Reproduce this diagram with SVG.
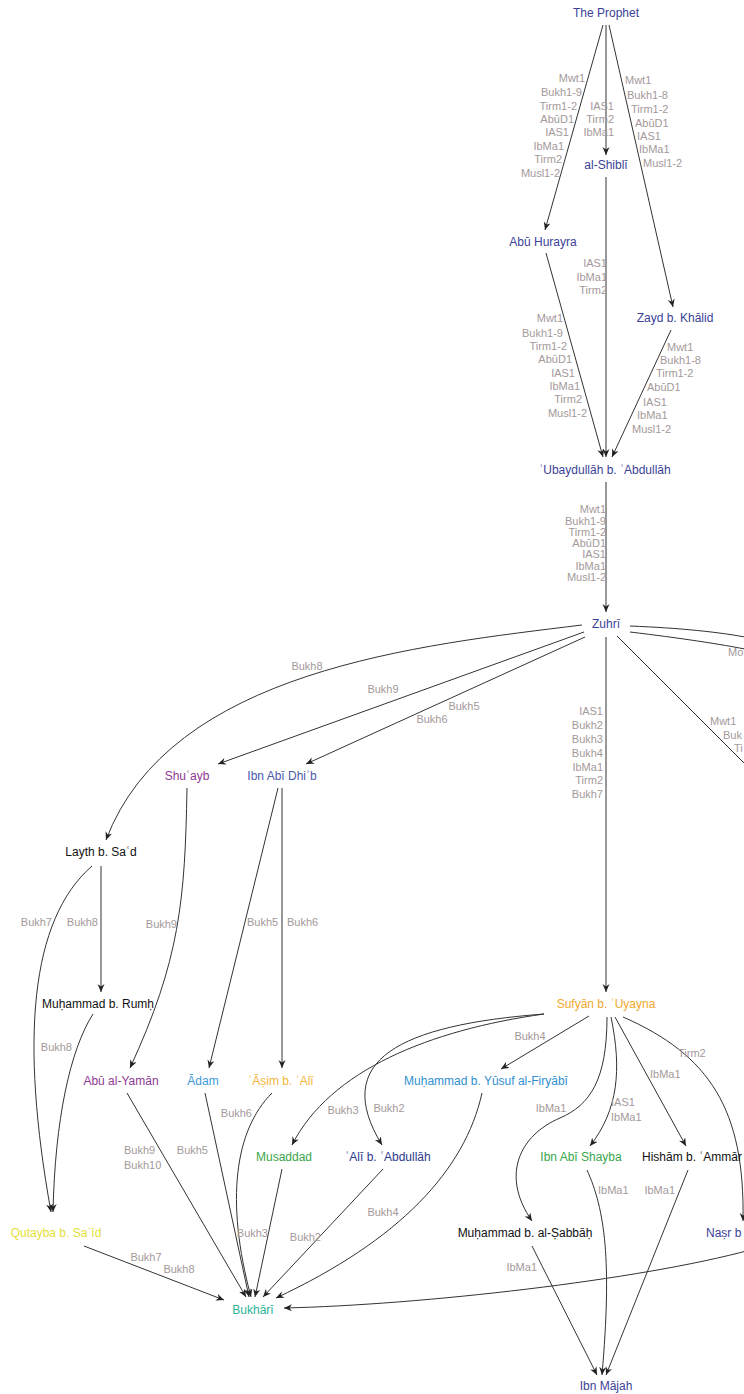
<svg xmlns="http://www.w3.org/2000/svg" width="744" height="1394" viewBox="0 0 744 1394">
  <style>
    .n { font-family: "Liberation Sans", "DejaVu Sans", sans-serif; font-size: 12px; text-anchor: middle; }
    .l { font-family: "Liberation Sans", "DejaVu Sans", sans-serif; font-size: 11px; fill: #a4999a; }
    .e { fill: none; stroke: #333; stroke-width: 1; marker-end: url(#arr); }
    .p { fill: none; stroke: #333; stroke-width: 1; }
    .r { text-anchor: end; }
    .m { text-anchor: middle; }
    .blue { fill: #3b3f98; }
    .blue2 { fill: #4a5aa8; }
    .navy { fill: #2e3a8c; }
    .purple { fill: #8e3a94; }
    .gold { fill: #f0a830; }
    .amber { fill: #f5b53c; }
    .sky { fill: #3d9ad9; }
    .azure { fill: #2f8fd0; }
    .green { fill: #3aa64a; }
    .yellow { fill: #e3df3a; }
    .teal { fill: #2bb39a; }
    .black { fill: #111; }
  </style>
  <defs>
    <marker id="arr" markerWidth="9" markerHeight="8" refX="8" refY="3.5" orient="auto" markerUnits="userSpaceOnUse">
      <path d="M0,0 L8,3.5 L0,7 L2.5,3.5 z" fill="#222"/>
    </marker>
  </defs>
  <rect width="744" height="1394" fill="#fff"/>

  <g id="connectors">
    <!-- The Prophet to Abū Hurayra -->
    <g>
      <path class="e" d="M603,25 L545,230"/>
      <text class="l r" x="585" y="82">Mwt1</text>
      <text class="l r" x="582" y="96">Bukh1-9</text>
      <text class="l r" x="577" y="110">Tirm1-2</text>
      <text class="l r" x="574" y="123">AbūD1</text>
      <text class="l r" x="569" y="136">IAS1</text>
      <text class="l r" x="564" y="150">IbMa1</text>
      <text class="l r" x="562" y="163">Tirm2</text>
      <text class="l r" x="560" y="177">Musl1-2</text>
    </g>
    <!-- The Prophet to al-Shiblī -->
    <g>
      <path class="e" d="M606,25 L606,155"/>
      <text class="l r" x="614" y="110">IAS1</text>
      <text class="l r" x="614" y="123">Tirm2</text>
      <text class="l r" x="614" y="136">IbMa1</text>
    </g>
    <!-- The Prophet to Zayd b. Khālid -->
    <g>
      <path class="e" d="M609,25 L673,307"/>
      <text class="l" x="625" y="84">Mwt1</text>
      <text class="l" x="627" y="99">Bukh1-8</text>
      <text class="l" x="631" y="113">Tirm1-2</text>
      <text class="l" x="635" y="127">AbūD1</text>
      <text class="l" x="637" y="140">IAS1</text>
      <text class="l" x="639" y="153">IbMa1</text>
      <text class="l" x="643" y="167">Musl1-2</text>
    </g>
    <!-- al-Shiblī to ʿUbaydullāh -->
    <g>
      <path class="e" d="M606,177 L606,457"/>
      <text class="l r" x="607" y="267">IAS1</text>
      <text class="l r" x="607" y="281">IbMa1</text>
      <text class="l r" x="607" y="294">Tirm2</text>
    </g>
    <!-- Abū Hurayra to ʿUbaydullāh -->
    <g>
      <path class="e" d="M546,253 L603,457"/>
      <text class="l r" x="563" y="322">Mwt1</text>
      <text class="l r" x="563" y="337">Bukh1-9</text>
      <text class="l r" x="567" y="350">Tirm1-2</text>
      <text class="l r" x="572" y="363">AbūD1</text>
      <text class="l r" x="575" y="377">IAS1</text>
      <text class="l r" x="580" y="390">IbMa1</text>
      <text class="l r" x="582" y="403">Tirm2</text>
      <text class="l r" x="587" y="417">Musl1-2</text>
    </g>
    <!-- Zayd b. Khālid to ʿUbaydullāh -->
    <g>
      <path class="e" d="M671,330 L612,457"/>
      <text class="l" x="667" y="351">Mwt1</text>
      <text class="l" x="660" y="364">Bukh1-8</text>
      <text class="l" x="656" y="377">Tirm1-2</text>
      <text class="l" x="647" y="391">AbūD1</text>
      <text class="l" x="643" y="406">IAS1</text>
      <text class="l" x="637" y="419">IbMa1</text>
      <text class="l" x="632" y="433">Musl1-2</text>
    </g>
    <!-- ʿUbaydullāh to Zuhrī -->
    <g>
      <path class="e" d="M606,482 L606,612"/>
      <text class="l r" x="606" y="513">Mwt1</text>
      <text class="l r" x="606" y="525">Bukh1-9</text>
      <text class="l r" x="606" y="536">Tirm1-2</text>
      <text class="l r" x="606" y="547">AbūD1</text>
      <text class="l r" x="606" y="558">IAS1</text>
      <text class="l r" x="606" y="570">IbMa1</text>
      <text class="l r" x="606" y="581">Musl1-2</text>
    </g>
    <!-- Zuhrī to Layth b. Saʿd -->
    <g>
      <path class="e" d="M582,625 C420,645 170,670 106,840"/>
      <text class="l m" x="307" y="670">Bukh8</text>
    </g>
    <!-- Zuhrī to Shuʿayb -->
    <g>
      <path class="e" d="M584,632 L218,764"/>
      <text class="l m" x="383" y="693">Bukh9</text>
    </g>
    <!-- Zuhrī to Ibn Abī Dhiʾb -->
    <g>
      <path class="e" d="M585,637 L306,764"/>
      <text class="l m" x="464" y="710">Bukh5</text>
      <text class="l m" x="432" y="723">Bukh6</text>
    </g>
    <!-- Zuhrī to Sufyān b. ʿUyayna -->
    <g>
      <path class="e" d="M606,637 L606,992"/>
      <text class="l r" x="603" y="715">IAS1</text>
      <text class="l r" x="603" y="729">Bukh2</text>
      <text class="l r" x="603" y="743">Bukh3</text>
      <text class="l r" x="603" y="757">Bukh4</text>
      <text class="l r" x="603" y="771">IbMa1</text>
      <text class="l r" x="603" y="784">Tirm2</text>
      <text class="l r" x="603" y="798">Bukh7</text>
    </g>
    <!-- Zuhrī, branches leaving to the right -->
    <g>
      <path class="p" d="M630,626 C680,628 720,632 750,638"/>
      <path class="p" d="M630,632 C680,638 720,644 750,650"/>
      <text class="l" x="728" y="656">Mo</text>
    </g>
    <g>
      <path class="p" d="M617,636 L750,769"/>
      <text class="l" x="710" y="725">Mwt1</text>
      <text class="l" x="723" y="739">Buk</text>
      <text class="l" x="734" y="752">Ti</text>
    </g>
    <!-- Layth b. Saʿd to Muḥammad b. Rumḥ -->
    <g>
      <path class="e" d="M101,866 L101,992"/>
      <text class="l r" x="98" y="926">Bukh8</text>
    </g>
    <!-- Layth b. Saʿd to Qutayba b. Saʿīd -->
    <g>
      <path class="e" d="M92,866 C30,920 20,1040 51,1212"/>
      <text class="l r" x="52" y="926">Bukh7</text>
    </g>
    <!-- Muḥammad b. Rumḥ to Qutayba b. Saʿīd -->
    <g>
      <path class="e" d="M93,1014 C70,1050 55,1120 53,1212"/>
      <text class="l r" x="72" y="1051">Bukh8</text>
    </g>
    <!-- Shuʿayb to Abū al-Yamān -->
    <g>
      <path class="e" d="M187,788 C185,900 180,960 130,1068"/>
      <text class="l r" x="177" y="928">Bukh9</text>
    </g>
    <!-- Ibn Abī Dhiʾb to Ādam -->
    <g>
      <path class="e" d="M278,788 L209,1068"/>
      <text class="l" x="247" y="926">Bukh5</text>
    </g>
    <!-- Ibn Abī Dhiʾb to ʿĀṣim b. ʿAlī -->
    <g>
      <path class="e" d="M282,788 L282,1068"/>
      <text class="l" x="287" y="926">Bukh6</text>
    </g>
    <!-- Sufyān to Muḥammad b. Yūsuf al-Firyābī -->
    <g>
      <path class="e" d="M589,1016 L501,1069"/>
      <text class="l m" x="530" y="1040">Bukh4</text>
    </g>
    <!-- Sufyān to Musaddad -->
    <g>
      <path class="e" d="M544,1014 C430,1030 330,1070 292,1145"/>
      <text class="l m" x="343" y="1114">Bukh3</text>
    </g>
    <!-- Sufyān to ʿAlī b. ʿAbdullāh -->
    <g>
      <path class="e" d="M544,1014 C400,1025 330,1060 382,1145"/>
      <text class="l m" x="389" y="1112">Bukh2</text>
    </g>
    <!-- Sufyān to Muḥammad b. al-Ṣabbāḥ -->
    <g>
      <path class="e" d="M607,1017 C607,1080 590,1105 560,1118 C520,1135 500,1175 532,1221"/>
      <text class="l m" x="551" y="1112">IbMa1</text>
    </g>
    <!-- Sufyān to Ibn Abī Shayba -->
    <g>
      <path class="e" d="M611,1017 C622,1070 618,1110 590,1146"/>
      <text class="l" x="611" y="1106">IAS1</text>
      <text class="l" x="611" y="1121">IbMa1</text>
    </g>
    <!-- Sufyān to Hishām b. ʿAmmār -->
    <g>
      <path class="e" d="M615,1017 L686,1146"/>
      <text class="l" x="650" y="1078">IbMa1</text>
    </g>
    <!-- Sufyān to Naṣr -->
    <g>
      <path class="e" d="M623,1017 C710,1055 745,1110 743,1221"/>
      <text class="l" x="678" y="1057">Tirm2</text>
    </g>
    <!-- into Bukhārī -->
    <g>
      <path class="e" d="M127,1093 L246,1297"/>
      <text class="l" x="124" y="1154">Bukh9</text>
      <text class="l" x="124" y="1169">Bukh10</text>
    </g>
    <g>
      <path class="e" d="M205,1093 L249,1297"/>
      <text class="l r" x="208" y="1154">Bukh5</text>
    </g>
    <g>
      <path class="e" d="M272,1093 C235,1130 225,1200 251,1297"/>
      <text class="l r" x="252" y="1117">Bukh6</text>
    </g>
    <g>
      <path class="e" d="M282,1169 L255,1297"/>
      <text class="l r" x="268" y="1237">Bukh3</text>
    </g>
    <g>
      <path class="e" d="M383,1169 L263,1297"/>
      <text class="l r" x="321" y="1241">Bukh2</text>
    </g>
    <g>
      <path class="e" d="M482,1093 C465,1170 400,1240 276,1298"/>
      <text class="l m" x="383" y="1216">Bukh4</text>
    </g>
    <g>
      <path class="e" d="M84,1246 L224,1300"/>
      <text class="l m" x="146" y="1261">Bukh7</text>
      <text class="l m" x="179" y="1273">Bukh8</text>
    </g>
    <g>
      <path class="e" d="M750,1250 C640,1280 420,1305 284,1308"/>
    </g>
    <!-- into Ibn Mājah -->
    <g>
      <path class="e" d="M532,1246 L597,1375"/>
      <text class="l r" x="537" y="1271">IbMa1</text>
    </g>
    <g>
      <path class="e" d="M587,1170 C605,1210 612,1260 602,1375"/>
      <text class="l" x="598" y="1194">IbMa1</text>
    </g>
    <g>
      <path class="e" d="M688,1170 L606,1375"/>
      <text class="l r" x="675" y="1194">IbMa1</text>
    </g>
  </g>

  <g id="the-prophet"><text class="n blue" x="606" y="17">The Prophet</text></g>
  <g id="al-shibli"><text class="n blue" x="606" y="169">al-Shiblī</text></g>
  <g id="abu-hurayra"><text class="n blue" x="543" y="246">Abū Hurayra</text></g>
  <g id="zayd"><text class="n blue" x="675" y="322">Zayd b. Khālid</text></g>
  <g id="ubaydullah"><text class="n blue" x="605" y="474">ʿUbaydullāh b. ʿAbdullāh</text></g>
  <g id="zuhri"><text class="n blue" x="606" y="628">Zuhrī</text></g>
  <g id="shuayb"><text class="n purple" x="187" y="780">Shuʿayb</text></g>
  <g id="ibn-abi-dhib"><text class="n blue2" x="282" y="780">Ibn Abī Dhiʾb</text></g>
  <g id="layth"><text class="n black" x="101" y="856">Layth b. Saʿd</text></g>
  <g id="muhammad-rumh"><text class="n black" x="98" y="1008">Muḥammad b. Rumḥ</text></g>
  <g id="sufyan"><text class="n gold" x="606" y="1008">Sufyān b. ʿUyayna</text></g>
  <g id="abu-al-yaman"><text class="n purple" x="121" y="1085">Abū al-Yamān</text></g>
  <g id="adam"><text class="n sky" x="203" y="1085">Ādam</text></g>
  <g id="asim"><text class="n amber" x="281" y="1085">ʿĀṣim b. ʿAlī</text></g>
  <g id="firyabi"><text class="n azure" x="486" y="1085">Muḥammad b. Yūsuf al-Firyābī</text></g>
  <g id="musaddad"><text class="n green" x="284" y="1161">Musaddad</text></g>
  <g id="ali"><text class="n navy" x="388" y="1161">ʿAlī b. ʿAbdullāh</text></g>
  <g id="ibn-abi-shayba"><text class="n green" x="581" y="1161">Ibn Abī Shayba</text></g>
  <g id="hisham"><text class="n black" x="692" y="1161">Hishām b. ʿAmmār</text></g>
  <g id="qutayba"><text class="n yellow" x="56" y="1237">Qutayba b. Saʿīd</text></g>
  <g id="muhammad-sabbah"><text class="n black" x="525" y="1237">Muḥammad b. al-Ṣabbāḥ</text></g>
  <g id="nasr"><text class="n blue" x="706" y="1237" style="text-anchor:start">Naṣr b</text></g>
  <g id="bukhari"><text class="n teal" x="253" y="1314">Bukhārī</text></g>
  <g id="ibn-majah"><text class="n blue" x="606" y="1390">Ibn Mājah</text></g>
</svg>
